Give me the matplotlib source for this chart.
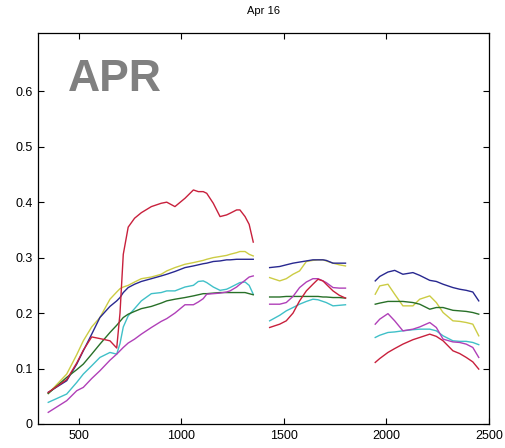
import numpy as np
import matplotlib.pyplot as plt

# reflectance spectra, three bands split by the water absorption gaps
wl_1 = [350, 440, 489, 521, 562, 602, 651, 684, 700, 716, 740, 771, 804, 853, 901,
        928, 968, 1017, 1058, 1082, 1106, 1123, 1155, 1188, 1220, 1237, 1269, 1285,
        1310, 1330, 1350]
wl_2 = [1430, 1479, 1511, 1544, 1576, 1609, 1641, 1666, 1690, 1706, 1739, 1770, 1800]
wl_3 = [1945, 1967, 2007, 2040, 2080, 2129, 2162, 2211, 2243, 2276, 2324, 2357, 2389,
        2421, 2450]

red_1 = [0.057, 0.080, 0.110, 0.133, 0.157, 0.154, 0.150, 0.137, 0.200, 0.306, 0.355,
         0.371, 0.381, 0.392, 0.398, 0.400, 0.392, 0.407, 0.422, 0.419, 0.419, 0.416,
         0.398, 0.374, 0.377, 0.380, 0.386, 0.386, 0.374, 0.360, 0.328]
yellow_1 = [0.055, 0.090, 0.125, 0.150, 0.175, 0.192, 0.225, 0.238, 0.244, 0.247, 0.250,
            0.256, 0.262, 0.265, 0.270, 0.276, 0.282, 0.288, 0.291, 0.293, 0.295, 0.297,
            0.300, 0.302, 0.304, 0.306, 0.309, 0.311, 0.311, 0.306, 0.303]
blue_1 = [0.057, 0.078, 0.108, 0.132, 0.162, 0.192, 0.212, 0.222, 0.228, 0.237, 0.246,
          0.252, 0.257, 0.262, 0.267, 0.270, 0.275, 0.282, 0.285, 0.287, 0.289, 0.290,
          0.293, 0.294, 0.296, 0.296, 0.297, 0.297, 0.297, 0.297, 0.297]
magenta_1 = [0.021, 0.042, 0.060, 0.066, 0.082, 0.096, 0.115, 0.126, 0.132, 0.138, 0.146,
             0.153, 0.162, 0.174, 0.185, 0.190, 0.200, 0.215, 0.215, 0.220, 0.226, 0.234,
             0.235, 0.236, 0.238, 0.240, 0.247, 0.252, 0.259, 0.265, 0.267]
cyan_1 = [0.039, 0.054, 0.075, 0.090, 0.105, 0.120, 0.129, 0.126, 0.145, 0.175, 0.195,
          0.208, 0.222, 0.235, 0.237, 0.240, 0.240, 0.247, 0.250, 0.257, 0.258, 0.255,
          0.247, 0.241, 0.243, 0.246, 0.252, 0.255, 0.256, 0.250, 0.234]
green_1 = [0.055, 0.084, 0.098, 0.108, 0.126, 0.144, 0.165, 0.178, 0.185, 0.192, 0.198,
           0.203, 0.208, 0.212, 0.218, 0.222, 0.225, 0.228, 0.231, 0.233, 0.235, 0.235,
           0.236, 0.237, 0.237, 0.237, 0.237, 0.237, 0.237, 0.235, 0.233]

red_2 = [0.174, 0.180, 0.186, 0.200, 0.222, 0.240, 0.252, 0.261, 0.258, 0.252, 0.240,
         0.232, 0.227]
yellow_2 = [0.264, 0.258, 0.262, 0.270, 0.276, 0.293, 0.295, 0.296, 0.296, 0.294, 0.290,
            0.287, 0.285]
blue_2 = [0.282, 0.284, 0.287, 0.290, 0.292, 0.294, 0.296, 0.296, 0.296, 0.295, 0.290,
          0.290, 0.290]
magenta_2 = [0.216, 0.216, 0.219, 0.230, 0.246, 0.256, 0.262, 0.262, 0.258, 0.255, 0.246,
             0.245, 0.245]
cyan_2 = [0.186, 0.196, 0.204, 0.210, 0.216, 0.221, 0.225, 0.224, 0.221, 0.219, 0.213,
          0.214, 0.215]
green_2 = [0.229, 0.229, 0.230, 0.230, 0.230, 0.230, 0.230, 0.230, 0.229, 0.229, 0.228,
           0.228, 0.227]

red_3 = [0.111, 0.118, 0.129, 0.136, 0.144, 0.152, 0.156, 0.162, 0.158, 0.150, 0.132,
         0.127, 0.120, 0.112, 0.099]
yellow_3 = [0.234, 0.249, 0.252, 0.234, 0.213, 0.213, 0.225, 0.231, 0.219, 0.201, 0.186,
            0.185, 0.183, 0.180, 0.159]
blue_3 = [0.258, 0.266, 0.274, 0.277, 0.270, 0.273, 0.268, 0.259, 0.257, 0.252, 0.246,
          0.243, 0.241, 0.238, 0.222]
magenta_3 = [0.180, 0.189, 0.199, 0.186, 0.168, 0.171, 0.175, 0.183, 0.174, 0.153, 0.148,
             0.147, 0.144, 0.138, 0.120]
cyan_3 = [0.156, 0.160, 0.165, 0.166, 0.168, 0.170, 0.171, 0.171, 0.168, 0.159, 0.150,
          0.149, 0.149, 0.147, 0.143]
green_3 = [0.216, 0.218, 0.221, 0.221, 0.221, 0.219, 0.216, 0.207, 0.210, 0.210, 0.205,
           0.204, 0.203, 0.201, 0.198]

colors = {'red': '#c8203c', 'yellow': '#cccc44', 'blue': '#282890',
          'magenta': '#b040b8', 'cyan': '#40c0c8', 'green': '#287028'}
series = {
    'yellow': (yellow_1, yellow_2, yellow_3),
    'blue': (blue_1, blue_2, blue_3),
    'cyan': (cyan_1, cyan_2, cyan_3),
    'green': (green_1, green_2, green_3),
    'magenta': (magenta_1, magenta_2, magenta_3),
    'red': (red_1, red_2, red_3),
}

plt.rcParams['font.family'] = ['Liberation Sans', 'DejaVu Sans']
fig = plt.figure(figsize=(5.06, 4.48), dpi=100)
ax = fig.add_axes([0.0751, 0.0536, 0.8913, 0.8727])

for name, parts in series.items():
    for wl, vals in zip((wl_1, wl_2, wl_3), parts):
        ax.plot(wl, vals, color=colors[name], lw=1.0)

ax.set_xlim(300, 2500)
ax.set_ylim(0, 0.705)
ax.set_xticks([500, 1000, 1500, 2000, 2500])
ax.set_yticks([0, 0.1, 0.2, 0.3, 0.4, 0.5, 0.6])
ax.set_yticklabels(['0', '0.1', '0.2', '0.3', '0.4', '0.5', '0.6'])
ax.tick_params(direction='in', length=4, top=True, right=True, labelsize=9, pad=4)
for s in ax.spines.values():
    s.set_linewidth(0.9)

ax.set_title('Apr 16', fontsize=8, pad=14)
ax.text(0.066, 0.852, 'APR', transform=ax.transAxes, fontsize=32, fontweight='bold',
        color='#808080', ha='left', va='baseline')

fig.savefig('out.png', dpi=100)
